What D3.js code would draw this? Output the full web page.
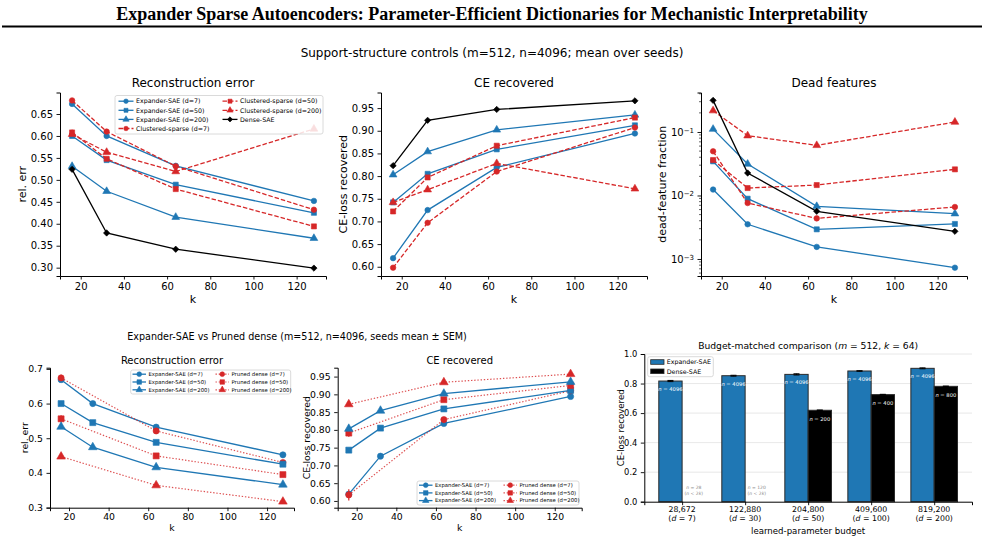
<!DOCTYPE html>
<html>
<head>
<meta charset="utf-8">
<script src="https://cdn.jsdelivr.net/npm/d3@7"></script>
<style>
  body { margin: 0; background: #ffffff; }
  text { font-family: "DejaVu Sans", sans-serif; fill: #000; }
</style>
</head>
<body>
<div id="canvas"></div>
<script>
"use strict"

// ---------- data ----------
let kValues = [16, 32, 64, 128];
let kPruned = [16, 64, 128];

// support-structure controls: reconstruction error
let recExp7 = [0.673, 0.600, 0.532, 0.452];
let recExp50 = [0.600, 0.545, 0.489, 0.425];
let recExp200 = [0.531, 0.474, 0.415, 0.367];
let recClu7 = [0.681, 0.610, 0.531, 0.432];
let recClu50 = [0.608, 0.548, 0.479, 0.394];
let recClu200 = [0.604, 0.563, 0.519, 0.616];
let recDense = [0.524, 0.379, 0.342, 0.299];

// support-structure controls: CE-loss recovered
let ceExp7 = [0.619, 0.725, 0.819, 0.894];
let ceExp50 = [0.742, 0.805, 0.859, 0.912];
let ceExp200 = [0.803, 0.854, 0.902, 0.935];
let ceClu7 = [0.598, 0.697, 0.810, 0.907];
let ceClu50 = [0.722, 0.797, 0.867, 0.929];
let ceClu200 = [0.742, 0.770, 0.828, 0.772];
let ceDense = [0.823, 0.923, 0.947, 0.966];

// support-structure controls: dead-feature fraction
let deadExp7 = [0.0124, 0.00352, 0.00155, 0.00073];
let deadExp50 = [0.0345, 0.0089, 0.00293, 0.00356];
let deadExp200 = [0.111, 0.0313, 0.00675, 0.00517];
let deadClu7 = [0.0496, 0.0076, 0.00436, 0.00659];
let deadClu50 = [0.0362, 0.0131, 0.0146, 0.0258];
let deadClu200 = [0.217, 0.0875, 0.0616, 0.1436];
let deadDense = [0.315, 0.0226, 0.00564, 0.00273];

// expander vs pruned dense (mean, SEM)
let prRecExp7 = [0.669, 0.600, 0.532, 0.452];
let prRecExp50 = [0.600, 0.545, 0.488, 0.425];
let prRecExp200 = [0.533, 0.474, 0.416, 0.366];
let prRecPru7 = [0.674, 0.521, 0.430];
let prRecPru50 = [0.556, 0.449, 0.395];
let prRecPru200 = [0.447, 0.364, 0.317];
let prRecPruSem7 = [0.009, 0.004, 0.003];
let prRecPruSem50 = [0.010, 0.004, 0.003];
let prRecPruSem200 = [0.004, 0.003, 0.002];

let prCeExp7 = [0.619, 0.726, 0.818, 0.894];
let prCeExp50 = [0.743, 0.805, 0.859, 0.911];
let prCeExp200 = [0.803, 0.854, 0.902, 0.935];
let prCePru7 = [0.617, 0.829, 0.910];
let prCePru50 = [0.791, 0.885, 0.925];
let prCePru200 = [0.872, 0.934, 0.957];
let prCePruSem7 = [0.016, 0.004, 0.004];
let prCePruSem50 = [0.010, 0.004, 0.003];
let prCePruSem200 = [0.004, 0.003, 0.003];

// budget-matched comparison
let budgetLabels = ["28,672", "122,880", "204,800", "409,600", "819,200"];
let budgetD = [7, 30, 50, 100, 200];
let barExpander = [0.817, 0.853, 0.862, 0.885, 0.903];
let barExpanderSem = [0.004, 0.003, 0.004, 0.002, 0.003];
let barDense = [null, null, 0.619, 0.725, 0.781];
let barDenseSem = [null, null, 0.002, 0.002, 0.002];
let barExpanderN = [4096, 4096, 4096, 4096, 4096];
let barDenseN = [28, 120, 200, 400, 800];

// ---------- canvas ----------
let drawing = d3.select("#canvas")
    .append("svg")
    .attr("width", 985)
    .attr("height", 540);

let blue = "#1f77b4";
let red = "#d62728";

// main title and rule under it
drawing.append("text")
    .attr("x", 492)
    .attr("y", 20)
    .attr("text-anchor", "middle")
    .style("font-family", "'Liberation Serif', serif")
    .style("font-weight", "bold")
    .style("font-size", "18px")
    .text("Expander Sparse Autoencoders: Parameter-Efficient Dictionaries for Mechanistic Interpretability");
drawing.append("line")
    .attr("x1", 2).attr("x2", 982)
    .attr("y1", 26.5).attr("y2", 26.5)
    .attr("stroke", "black")
    .attr("stroke-width", 2);

drawing.append("text")
    .attr("x", 492)
    .attr("y", 57)
    .attr("text-anchor", "middle")
    .style("font-size", "12px")
    .text("Support-structure controls (m=512, n=4096; mean over seeds)");

drawing.append("text")
    .attr("x", 297)
    .attr("y", 339.5)
    .attr("text-anchor", "middle")
    .style("font-size", "9.6px")
    .text("Expander-SAE vs Pruned dense (m=512, n=4096, seeds mean \u00b1 SEM)");

// ---------- helpers ----------
function markerPath(type, area) {
    let shapes = {
        circle: d3.symbolCircle,
        square: d3.symbolSquare,
        triangle: d3.symbolTriangle,
        diamond: d3.symbolSquare
    };
    return d3.symbol().type(shapes[type]).size(area)();
}

function drawMarker(g, type, area, cx, cy, color) {
    let rot = type === "diamond" ? " rotate(45)" : "";
    g.append("path")
        .attr("d", markerPath(type, area))
        .attr("transform", "translate(" + cx + "," + cy + ")" + rot)
        .attr("fill", color)
        .attr("stroke", color)
        .attr("stroke-width", 0.6);
}

function styleAxis(axisG, fontSize) {
    axisG.select(".domain").attr("stroke", "black").attr("stroke-width", 1);
    axisG.selectAll(".tick line").attr("stroke", "black").attr("stroke-width", 0.9);
    axisG.selectAll(".tick text")
        .style("font-family", "'DejaVu Sans', sans-serif")
        .style("font-size", fontSize + "px")
        .attr("fill", "black");
}

// one line panel: scales, axes, title, labels
function makePanel(box, yScaleType, yDomain, yTicks, yFormat, fonts, titleText, yLabel) {
    let g = drawing.append("g");
    let x = d3.scaleLinear().domain([10.4, 133.6]).range([box.left, box.right]);
    let y = (yScaleType === "log" ? d3.scaleLog() : d3.scaleLinear())
        .domain(yDomain).range([box.bottom, box.top]);

    let xAxis = g.append("g")
        .attr("transform", "translate(0," + box.bottom + ")")
        .call(d3.axisBottom(x).tickValues([20, 40, 60, 80, 100, 120])
            .tickSizeOuter(0).tickSize(3.5).tickPadding(fonts.xpad));
    styleAxis(xAxis, fonts.tick);

    let yAxis = g.append("g")
        .attr("transform", "translate(" + box.left + ",0)");
    if (yScaleType === "log") {
        yAxis.call(d3.axisLeft(y).tickValues(yTicks).tickFormat("")
            .tickSizeOuter(0).tickSize(3.5));
        // minor ticks
        let minors = [];
        [0.0001, 0.001, 0.01, 0.1].forEach(function(dec) {
            for (let m = 2; m <= 9; m++) {
                let v = dec * m;
                if (v >= yDomain[0] && v <= yDomain[1]) minors.push(v);
            }
        });
        g.selectAll(".minor").data(minors).enter().append("line")
            .attr("x1", box.left - 2).attr("x2", box.left)
            .attr("y1", d => y(d)).attr("y2", d => y(d))
            .attr("stroke", "black").attr("stroke-width", 0.6);
        yAxis.selectAll(".tick").each(function(d) {
            let t = d3.select(this).append("text")
                .attr("x", -7).attr("dy", "0.32em")
                .attr("text-anchor", "end")
                .style("font-size", fonts.tick + "px");
            t.append("tspan").text("10");
            t.append("tspan")
                .attr("dy", "-0.45em")
                .style("font-size", (fonts.tick * 0.7) + "px")
                .text("\u2212" + Math.round(-Math.log10(d)));
        });
    } else {
        yAxis.call(d3.axisLeft(y).tickValues(yTicks).tickFormat(d3.format(yFormat))
            .tickSizeOuter(0).tickSize(3.5).tickPadding(3.5));
    }
    styleAxis(yAxis, fonts.tick);

    g.append("text")
        .attr("x", (box.left + box.right) / 2)
        .attr("y", box.top - fonts.titleGap)
        .attr("text-anchor", "middle")
        .style("font-size", fonts.title + "px")
        .text(titleText);
    g.append("text")
        .attr("x", (box.left + box.right) / 2)
        .attr("y", box.bottom + fonts.xlabGap)
        .attr("text-anchor", "middle")
        .style("font-size", fonts.label + "px")
        .text("k");
    g.append("text")
        .attr("transform", "translate(" + box.ylabX + "," + ((box.top + box.bottom) / 2) + ") rotate(-90)")
        .attr("text-anchor", "middle")
        .attr("dy", "0.35em")
        .style("font-size", fonts.label + "px")
        .text(yLabel);
    return { g: g, x: x, y: y };
}

function drawSeries(panel, ks, values, style, sem) {
    let line = d3.line()
        .x((d, i) => panel.x(ks[i]))
        .y(d => panel.y(d));
    panel.g.append("path")
        .datum(values)
        .attr("d", line)
        .attr("fill", "none")
        .attr("stroke", style.color)
        .attr("stroke-width", style.width)
        .attr("stroke-dasharray", style.dash)
        .attr("opacity", style.lineOpacity || 1);
    if (sem) {
        values.forEach(function(v, i) {
            panel.g.append("line")
                .attr("x1", panel.x(ks[i])).attr("x2", panel.x(ks[i]))
                .attr("y1", panel.y(v - sem[i])).attr("y2", panel.y(v + sem[i]))
                .attr("stroke", style.color)
                .attr("stroke-width", 1.2);
        });
    }
    values.forEach(function(v, i) {
        drawMarker(panel.g, style.marker, style.size, panel.x(ks[i]), panel.y(v), style.color);
    });
}

function drawLegend(box, columns, fontSize, rowGap, handleLen) {
    let g = drawing.append("g");
    g.append("rect")
        .attr("x", box.left).attr("y", box.top)
        .attr("width", box.width).attr("height", box.height)
        .attr("rx", 2)
        .attr("fill", "white").attr("fill-opacity", 0.85)
        .attr("stroke", "#d0d0d0").attr("stroke-width", 0.8);
    columns.forEach(function(col, ci) {
        col.entries.forEach(function(e, ri) {
            let yy = box.top + box.pad + ri * rowGap;
            g.append("line")
                .attr("x1", col.x).attr("x2", col.x + handleLen)
                .attr("y1", yy).attr("y2", yy)
                .attr("stroke", e.style.color)
                .attr("stroke-width", e.style.width)
                .attr("stroke-dasharray", e.style.dash)
                .attr("opacity", e.style.lineOpacity || 1);
            drawMarker(g, e.style.marker, e.style.legendSize, col.x + handleLen / 2, yy, e.style.color);
            g.append("text")
                .attr("x", col.x + handleLen + 2.5)
                .attr("y", yy)
                .attr("dy", "0.35em")
                .style("font-size", fontSize + "px")
                .text(e.name);
        });
    });
}

// ---------- top row: support-structure controls ----------
function topStyle(kind, marker) {
    let sizes = { circle: 24, square: 26, triangle: 26, diamond: 20 };
    let legendSizes = { circle: 16, square: 16, triangle: 17, diamond: 13 };
    let st = { marker: marker, size: sizes[marker], legendSize: legendSizes[marker], width: 1.3, dash: null, color: blue };
    if (kind === "clu") { st.color = red; st.dash = "4.5,2"; }
    if (kind === "dense") { st.color = "black"; }
    return st;
}

let topSeries = [
    { name: "Expander-SAE (d=7)", style: topStyle("exp", "circle"), rec: recExp7, ce: ceExp7, dead: deadExp7 },
    { name: "Expander-SAE (d=50)", style: topStyle("exp", "square"), rec: recExp50, ce: ceExp50, dead: deadExp50 },
    { name: "Expander-SAE (d=200)", style: topStyle("exp", "triangle"), rec: recExp200, ce: ceExp200, dead: deadExp200 },
    { name: "Clustered-sparse (d=7)", style: topStyle("clu", "circle"), rec: recClu7, ce: ceClu7, dead: deadClu7 },
    { name: "Clustered-sparse (d=50)", style: topStyle("clu", "square"), rec: recClu50, ce: ceClu50, dead: deadClu50 },
    { name: "Clustered-sparse (d=200)", style: topStyle("clu", "triangle"), rec: recClu200, ce: ceClu200, dead: deadClu200 },
    { name: "Dense-SAE", style: topStyle("dense", "diamond"), rec: recDense, ce: ceDense, dead: deadDense }
];

let topFonts = { tick: 10, label: 11, title: 12, titleGap: 5.5, xlabGap: 27, xpad: 3.5 };

let recPanel = makePanel({ left: 60, right: 326, top: 92.5, bottom: 276, ylabX: 22.5 },
    "linear", [0.281, 0.699], [0.30, 0.35, 0.40, 0.45, 0.50, 0.55, 0.60, 0.65], ".2f",
    topFonts, "Reconstruction error", "rel. err");
let cePanel = makePanel({ left: 381, right: 647, top: 92.5, bottom: 276, ylabX: 343 },
    "linear", [0.5796, 0.9844], [0.60, 0.65, 0.70, 0.75, 0.80, 0.85, 0.90, 0.95], ".2f",
    topFonts, "CE recovered", "CE-loss recovered");
let deadPanel = makePanel({ left: 701, right: 967, top: 92.5, bottom: 276, ylabX: 662.5 },
    "log", [Math.pow(10, -3.268), Math.pow(10, -0.378)], [0.001, 0.01, 0.1], null,
    topFonts, "Dead features", "dead-feature fraction");

topSeries.forEach(function(s) {
    drawSeries(recPanel, kValues, s.rec, s.style);
    drawSeries(cePanel, kValues, s.ce, s.style);
    drawSeries(deadPanel, kValues, s.dead, s.style);
});

drawLegend({ left: 115, top: 95.5, width: 208, height: 38.5, pad: 5.7 },
    [{ x: 118.5, entries: topSeries.slice(0, 4) }, { x: 222.5, entries: topSeries.slice(4) }],
    6.3, 9.1, 15);

// ---------- bottom row: expander vs pruned dense ----------
function botStyle(kind, marker) {
    let sizes = { circle: 30, square: 36, triangle: 32 };
    let legendSizes = { circle: 18, square: 20, triangle: 18 };
    let st = { marker: marker, size: sizes[marker], legendSize: legendSizes[marker], width: 1.3, dash: null, color: blue };
    if (kind === "pru") { st.color = red; st.dash = "1.4,1.8"; st.width = 1.2; st.lineOpacity = 0.8; }
    return st;
}

let botNames = ["Expander-SAE (d=7)", "Expander-SAE (d=50)", "Expander-SAE (d=200)",
    "Pruned dense (d=7)", "Pruned dense (d=50)", "Pruned dense (d=200)"];
let botMarkers = ["circle", "square", "triangle"];

let botFonts = { tick: 9.3, label: 9.3, title: 10, titleGap: 4, xlabGap: 23.5, xpad: 2.5 };

let prRecPanel = makePanel({ left: 50, right: 294, top: 367.7, bottom: 507.7, ylabX: 25 },
    "linear", [0.2995, 0.7035], [0.3, 0.4, 0.5, 0.6, 0.7], ".1f",
    botFonts, "Reconstruction error", "rel. err");
let prCePanel = makePanel({ left: 337.7, right: 581.7, top: 367.7, bottom: 507.7, ylabX: 307 },
    "linear", [0.581, 0.975], [0.60, 0.65, 0.70, 0.75, 0.80, 0.85, 0.90, 0.95], ".2f",
    botFonts, "CE recovered", "CE-loss recovered");

let prRecExp = [prRecExp7, prRecExp50, prRecExp200];
let prRecPru = [prRecPru7, prRecPru50, prRecPru200];
let prRecPruSem = [prRecPruSem7, prRecPruSem50, prRecPruSem200];
let prCeExp = [prCeExp7, prCeExp50, prCeExp200];
let prCePru = [prCePru7, prCePru50, prCePru200];
let prCePruSem = [prCePruSem7, prCePruSem50, prCePruSem200];

for (let i = 0; i < 3; i++) {
    drawSeries(prRecPanel, kValues, prRecExp[i], botStyle("exp", botMarkers[i]));
    drawSeries(prRecPanel, kPruned, prRecPru[i], botStyle("pru", botMarkers[i]), prRecPruSem[i]);
    drawSeries(prCePanel, kValues, prCeExp[i], botStyle("exp", botMarkers[i]));
    drawSeries(prCePanel, kPruned, prCePru[i], botStyle("pru", botMarkers[i]), prCePruSem[i]);
}

let botEntriesExp = [0, 1, 2].map(i => ({ name: botNames[i], style: botStyle("exp", botMarkers[i]) }));
let botEntriesPru = [0, 1, 2].map(i => ({ name: botNames[i + 3], style: botStyle("pru", botMarkers[i]) }));

drawLegend({ left: 130.7, top: 370, width: 160, height: 24, pad: 4.2 },
    [{ x: 132.5, entries: botEntriesExp }, { x: 215.5, entries: botEntriesPru }],
    5.3, 7.8, 13.5);
drawLegend({ left: 417, top: 481, width: 162, height: 24, pad: 4.2 },
    [{ x: 419, entries: botEntriesExp }, { x: 503.5, entries: botEntriesPru }],
    5.3, 7.7, 13.5);

// ---------- bottom right: budget-matched bars ----------
let barG = drawing.append("g");
let barBox = { left: 644.3, right: 972, top: 354, bottom: 501.7 };
let barW = 0.37;
let bx = d3.scaleLinear().domain([-0.6, 4.6]).range([barBox.left, barBox.right]);
let by = d3.scaleLinear().domain([0, 1]).range([barBox.bottom, barBox.top]);

// grid
barG.selectAll(".grid").data([0.2, 0.4, 0.6, 0.8, 1.0]).enter().append("line")
    .attr("x1", barBox.left).attr("x2", barBox.right)
    .attr("y1", d => by(d)).attr("y2", d => by(d))
    .attr("stroke", "#e5e5e5").attr("stroke-width", 0.9);

// expander bars
barG.selectAll(".expBar").data(barExpander).enter().append("rect")
    .attr("x", (d, i) => bx(i - barW))
    .attr("width", bx(barW) - bx(0))
    .attr("y", d => by(d))
    .attr("height", d => by(0) - by(d))
    .attr("fill", blue)
    .attr("stroke", "#2a2a2a").attr("stroke-width", 1);

// dense bars (missing where the budget is too small)
barDense.forEach(function(v, i) {
    if (v === null) return;
    barG.append("rect")
        .attr("x", bx(i))
        .attr("width", bx(barW) - bx(0))
        .attr("y", by(v))
        .attr("height", by(0) - by(v))
        .attr("fill", "black")
        .attr("stroke", "#2a2a2a").attr("stroke-width", 1);
});

// error bars
function errBar(cx, v, s) {
    barG.append("line")
        .attr("x1", cx).attr("x2", cx)
        .attr("y1", by(v - s)).attr("y2", by(v + s))
        .attr("stroke", "black").attr("stroke-width", 1);
    [v - s, v + s].forEach(function(e) {
        barG.append("line")
            .attr("x1", cx - 3).attr("x2", cx + 3)
            .attr("y1", by(e)).attr("y2", by(e))
            .attr("stroke", "black").attr("stroke-width", 1);
    });
}
barExpander.forEach((v, i) => errBar(bx(i - barW / 2), v, barExpanderSem[i]));
barDense.forEach(function(v, i) {
    if (v !== null) errBar(bx(i + barW / 2), v, barDenseSem[i]);
});

// in-bar n labels
function nLabel(cx, cy, n, color, size) {
    let t = barG.append("text")
        .attr("x", cx).attr("y", cy)
        .attr("text-anchor", "middle")
        .attr("dy", "0.35em")
        .style("font-size", size + "px")
        .style("fill", color);
    t.append("tspan").style("font-style", "italic").style("fill", color).text("n");
    t.append("tspan").style("fill", color).text(" = " + n);
    return t;
}
barExpander.forEach((v, i) => nLabel(bx(i - barW / 2), by(v) + 8, barExpanderN[i], "white", 5.2));
barDense.forEach(function(v, i) {
    let cx = bx(i + barW / 2);
    if (v !== null) {
        nLabel(cx, by(v) + 9, barDenseN[i], "white", 5.2);
    } else {
        nLabel(cx, by(0.1), barDenseN[i], "#888888", 4.5);
        let t = barG.append("text")
            .attr("x", cx).attr("y", by(0.1) + 6.6)
            .attr("text-anchor", "middle")
            .attr("dy", "0.35em")
            .style("font-size", "4.5px")
            .style("fill", "#888888");
        t.append("tspan").style("fill", "#888888").text("(");
        t.append("tspan").style("fill", "#888888").style("font-style", "italic").text("n");
        t.append("tspan").style("fill", "#888888").text(" < 2");
        t.append("tspan").style("fill", "#888888").style("font-style", "italic").text("k");
        t.append("tspan").style("fill", "#888888").text(")");
    }
});

// axes
let barXAxis = barG.append("g")
    .attr("transform", "translate(0," + barBox.bottom + ")")
    .call(d3.axisBottom(bx).tickValues([0, 1, 2, 3, 4]).tickFormat("").tickSizeOuter(0).tickSize(3.5));
styleAxis(barXAxis, 7.8);
budgetLabels.forEach(function(lab, i) {
    barG.append("text")
        .attr("x", bx(i)).attr("y", barBox.bottom + 9.8)
        .attr("text-anchor", "middle")
        .style("font-size", "7.8px")
        .text(lab);
    let t = barG.append("text")
        .attr("x", bx(i)).attr("y", barBox.bottom + 19.1)
        .attr("text-anchor", "middle")
        .style("font-size", "7.8px");
    t.append("tspan").text("(");
    t.append("tspan").style("font-style", "italic").text("d");
    t.append("tspan").text(" = " + budgetD[i] + ")");
});
let barYAxis = barG.append("g")
    .attr("transform", "translate(" + barBox.left + ",0)")
    .call(d3.axisLeft(by).tickValues([0, 0.2, 0.4, 0.6, 0.8, 1.0]).tickFormat(d3.format(".1f"))
        .tickSizeOuter(0).tickSize(3.5).tickPadding(3.5));
styleAxis(barYAxis, 8.3);

barG.append("text")
    .attr("x", (barBox.left + barBox.right) / 2)
    .attr("y", 533.5)
    .attr("text-anchor", "middle")
    .style("font-size", "8.6px")
    .text("learned-parameter budget");
barG.append("text")
    .attr("transform", "translate(620.7," + ((barBox.top + barBox.bottom) / 2) + ") rotate(-90)")
    .attr("text-anchor", "middle")
    .attr("dy", "0.35em")
    .style("font-size", "8.6px")
    .text("CE-loss recovered");

let barTitle = barG.append("text")
    .attr("x", (barBox.left + barBox.right) / 2)
    .attr("y", 349.3)
    .attr("text-anchor", "middle")
    .style("font-size", "9.2px");
barTitle.append("tspan").text("Budget-matched comparison (");
barTitle.append("tspan").style("font-style", "italic").text("m");
barTitle.append("tspan").text(" = 512, ");
barTitle.append("tspan").style("font-style", "italic").text("k");
barTitle.append("tspan").text(" = 64)");

// bar legend
barG.append("rect")
    .attr("x", 647.7).attr("y", 356.7)
    .attr("width", 65.6).attr("height", 20)
    .attr("rx", 2)
    .attr("fill", "white").attr("fill-opacity", 0.85)
    .attr("stroke", "#d0d0d0").attr("stroke-width", 0.8);
[["Expander-SAE", blue], ["Dense-SAE", "black"]].forEach(function(e, i) {
    let yy = 362 + i * 9.3;
    barG.append("rect")
        .attr("x", 650.7).attr("y", yy - 2.3)
        .attr("width", 13.3).attr("height", 4.6)
        .attr("fill", e[1])
        .attr("stroke", "#2a2a2a").attr("stroke-width", 0.8);
    barG.append("text")
        .attr("x", 666.7).attr("y", yy)
        .attr("dy", "0.35em")
        .style("font-size", "6.3px")
        .text(e[0]);
});
</script>
</body>
</html>
